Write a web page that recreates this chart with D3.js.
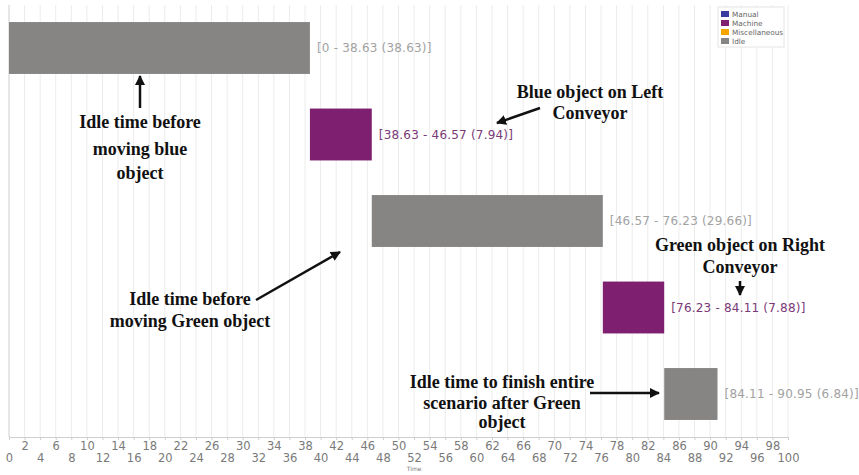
<!DOCTYPE html>
<html><head><meta charset="utf-8">
<script src="https://cdn.jsdelivr.net/npm/d3@7"></script>
<style>body{margin:0;background:#fff}svg{display:block}</style>
</head><body>
<script>
// Data
const tasks = ["T1","T2","T3","T4","T5"];
const starts = [0, 38.63, 46.57, 76.23, 84.11];
const ends = [38.63, 46.57, 76.23, 84.11, 90.95];
const types = ["Idle","Machine","Idle","Machine","Idle"];
const legendItems = ["Manual","Machine","Miscellaneous","Idle"];
const legendColors = ["#3a3da0","#7e1f70","#f5a500","#878584"];
const tickValues = d3.range(0, 101, 2);

const W = 859, H = 475;
const svg = d3.select("body").append("svg").attr("width", W).attr("height", H);
const color = d3.scaleOrdinal().domain(legendItems).range(legendColors);
const labelColor = {Idle:"#a2a2a2", Machine:"#7a3a78", Manual:"#3a3da0", Miscellaneous:"#c08000"};

const x = d3.scaleLinear().domain([0,100]).range([9, 788]);
const y = d3.scaleBand().domain(tasks).range([4.75, 437.25]).paddingInner(0.4).paddingOuter(0.2);
const plotTop = 5, plotBottom = 437;

// grid
svg.append("g").selectAll("line").data(tickValues).join("line")
  .attr("x1", d=>x(d)).attr("x2", d=>x(d)).attr("y1", plotTop).attr("y2", plotBottom)
  .attr("stroke", "#ececec").attr("stroke-width", 1);
svg.append("line").attr("x1", x(0)).attr("x2", x(0)).attr("y1", plotTop).attr("y2", plotBottom).attr("stroke","#d8d8d8");

// axis
const axis = d3.axisBottom(x).tickValues(tickValues).tickSize(3).tickFormat("");
const ag = svg.append("g").attr("transform", `translate(0,${plotBottom})`).call(axis);
ag.select(".domain").attr("stroke", "#cfcfcf");
ag.selectAll(".tick line").attr("stroke", "#cfcfcf");
ag.selectAll(".tick").append("text")
  .attr("y", d => (d/2)%2===1 ? 13 : 25)
  .attr("text-anchor","middle")
  .attr("font-family","DejaVu Sans, sans-serif").attr("font-size", 11.5)
  .attr("fill","#7a7a7a")
  .text(d=>d);
svg.append("text").attr("x", x(52)).attr("y", 471).attr("text-anchor","middle")
  .attr("font-family","DejaVu Sans, sans-serif").attr("font-size",6).attr("fill","#777").text("Time");

// bars
svg.append("g").selectAll("rect").data(tasks).join("rect")
  .attr("x", (d,i)=>x(starts[i])).attr("width",(d,i)=>x(ends[i])-x(starts[i]))
  .attr("y", d=>y(d)).attr("height", y.bandwidth())
  .attr("fill", (d,i)=>color(types[i]));
svg.append("g").selectAll("text").data(tasks).join("text")
  .attr("x", (d,i)=>x(ends[i])+7).attr("y", d=>y(d)+y.bandwidth()/2+4)
  .attr("font-family","DejaVu Sans, sans-serif").attr("font-size", 12).attr("letter-spacing", 0.2)
  .attr("fill", (d,i)=>labelColor[types[i]])
  .text((d,i)=>`[${starts[i]} - ${ends[i].toFixed(2)} (${(ends[i]-starts[i]).toFixed(2)})]`);

// legend
const lg = svg.append("g").attr("transform","translate(718,7)");
lg.append("rect").attr("width",66).attr("height",40).attr("fill","#fff").attr("stroke","#e4e4e4");
legendItems.forEach((k,i)=>{
  lg.append("rect").attr("x",3).attr("y",4+i*9).attr("width",8).attr("height",6).attr("fill",legendColors[i]);
  lg.append("text").attr("x",14).attr("y",10+i*9).attr("font-family","DejaVu Sans, sans-serif")
    .attr("font-size",7.3).attr("fill","#666").text(k);
});

// annotations
const defs = svg.append("defs");
defs.append("marker").attr("id","ah").attr("viewBox","0 0 10 10").attr("refX",9).attr("refY",5)
  .attr("markerWidth",4).attr("markerHeight",4).attr("orient","auto")
  .append("path").attr("d","M0,0L10,5L0,10z").attr("fill","#111");
function arrow(x1,y1,x2,y2){
  svg.append("line").attr("x1",x1).attr("y1",y1).attr("x2",x2).attr("y2",y2)
    .attr("stroke","#111").attr("stroke-width",2.5).attr("marker-end","url(#ah)");
}
function note(lines, cx, ys){
  lines.forEach((t,i)=>svg.append("text").attr("x",cx).attr("y",ys[i]).attr("text-anchor","middle")
    .attr("font-family","Liberation Serif, Times New Roman, serif").attr("font-weight","bold")
    .attr("font-size",18).attr("fill","#111").text(t));
}
note(["Idle time before","moving blue","object"], 140, [128, 155, 179]);
arrow(140,108,140,76);
note(["Blue object on Left","Conveyor"], 590, [98, 119]);
arrow(540,108,497,123);
note(["Idle time before","moving Green object"], 190, [305, 327]);
arrow(256,300,340,252);
note(["Green object on Right","Conveyor"], 740, [251, 273]);
arrow(740,281,740,295);
note(["Idle time to finish entire","scenario after Green","object"], 502, [388, 409, 428]);
arrow(590,393,659,393);
</script>
</body></html>
